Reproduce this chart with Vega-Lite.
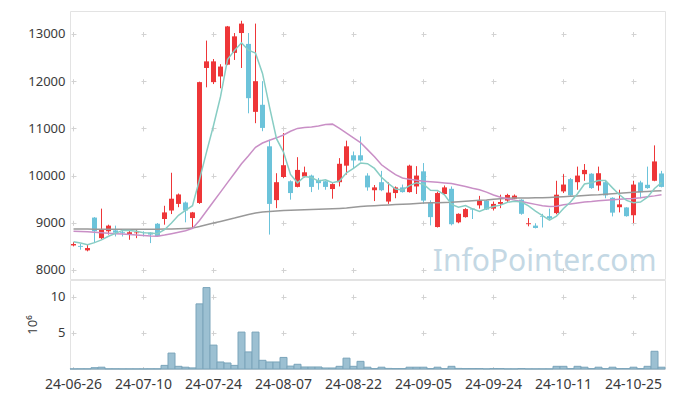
{
"$schema": "https://vega.github.io/schema/vega-lite/v6.json",
"padding": {"left": 5, "top": 10, "right": 9, "bottom": 5},
"background": "white",
"spacing": -3,
"config": {
  "view": {"stroke": "#e3e3e3"},
  "font": "Noto Sans",
  "axis": {"labelFont": "Noto Sans", "labelFontSize": 13, "labelColor": "#3a3a3a", "ticks": false, "domain": false, "gridColor": "#d2d2d2", "gridWidth": 1, "titleFont": "Noto Sans", "titleFontWeight": "normal", "titleFontSize": 13, "titleColor": "#3a3a3a"}
},
"datasets": {"k": [
{"d":"24-06-26","O":8520,"H":8590,"L":8500,"C":8550,"V":0.02,"m5":8600,"m20":8820,"m60":8870},
{"d":"24-06-27","O":8510,"H":8550,"L":8430,"C":8490,"V":0.03,"m5":8570,"m20":8815,"m60":8868},
{"d":"24-06-28","O":8415,"H":8540,"L":8395,"C":8465,"V":0.03,"m5":8535,"m20":8810,"m60":8866},
{"d":"24-07-01","O":9110,"H":9120,"L":8570,"C":8820,"V":0.18,"m5":8580,"m20":8800,"m60":8865},
{"d":"24-07-02","O":8675,"H":9300,"L":8650,"C":8860,"V":0.25,"m5":8637,"m20":8790,"m60":8865},
{"d":"24-07-03","O":8820,"H":8960,"L":8750,"C":8940,"V":0.03,"m5":8715,"m20":8780,"m60":8865},
{"d":"24-07-04","O":8840,"H":8940,"L":8710,"C":8790,"V":0.03,"m5":8775,"m20":8770,"m60":8864},
{"d":"24-07-05","O":8800,"H":8860,"L":8710,"C":8780,"V":0.02,"m5":8838,"m20":8760,"m60":8864},
{"d":"24-07-08","O":8750,"H":8860,"L":8640,"C":8800,"V":0.02,"m5":8834,"m20":8750,"m60":8863},
{"d":"24-07-09","O":8780,"H":8860,"L":8675,"C":8795,"V":0.02,"m5":8821,"m20":8740,"m60":8862},
{"d":"24-07-10","O":8795,"H":8820,"L":8710,"C":8785,"V":0.02,"m5":8790,"m20":8730,"m60":8862},
{"d":"24-07-11","O":8790,"H":8800,"L":8570,"C":8750,"V":0.03,"m5":8782,"m20":8720,"m60":8862},
{"d":"24-07-12","O":8980,"H":8995,"L":8710,"C":8715,"V":0.03,"m5":8769,"m20":8715,"m60":8863},
{"d":"24-07-15","O":9080,"H":9360,"L":8960,"C":9220,"V":0.5,"m5":8853,"m20":8740,"m60":8866},
{"d":"24-07-16","O":9260,"H":10060,"L":9185,"C":9510,"V":2.2,"m5":8996,"m20":8770,"m60":8870},
{"d":"24-07-17","O":9400,"H":9620,"L":9330,"C":9600,"V":0.37,"m5":9159,"m20":8800,"m60":8875},
{"d":"24-07-18","O":9430,"H":9450,"L":9010,"C":9260,"V":0.25,"m5":9261,"m20":8830,"m60":8880},
{"d":"24-07-19","O":9100,"H":9230,"L":8890,"C":9220,"V":0.15,"m5":9362,"m20":8880,"m60":8887},
{"d":"24-07-22","O":9420,"H":11990,"L":9400,"C":11980,"V":9.0,"m5":9914,"m20":9050,"m60":8920},
{"d":"24-07-23","O":12280,"H":12860,"L":11870,"C":12420,"V":11.25,"m5":10496,"m20":9250,"m60":8960},
{"d":"24-07-24","O":11980,"H":12470,"L":11940,"C":12420,"V":3.3,"m5":11060,"m20":9450,"m60":8995},
{"d":"24-07-25","O":12100,"H":12360,"L":11850,"C":12310,"V":0.97,"m5":11670,"m20":9650,"m60":9029},
{"d":"24-07-26","O":12350,"H":13170,"L":12340,"C":13160,"V":0.83,"m5":12458,"m20":9850,"m60":9064},
{"d":"24-07-29","O":12600,"H":13020,"L":12450,"C":12950,"V":0.5,"m5":12652,"m20":10050,"m60":9100},
{"d":"24-07-30","O":13020,"H":13280,"L":12280,"C":13220,"V":5.1,"m5":12812,"m20":10250,"m60":9140},
{"d":"24-07-31","O":12790,"H":13020,"L":11320,"C":11640,"V":2.36,"m5":12656,"m20":10420,"m60":9175},
{"d":"24-08-01","O":11350,"H":13220,"L":11110,"C":12000,"V":5.1,"m5":12594,"m20":10600,"m60":9205},
{"d":"24-08-02","O":11500,"H":12000,"L":10940,"C":11010,"V":1.2,"m5":12164,"m20":10690,"m60":9230},
{"d":"24-08-05","O":10620,"H":10760,"L":8750,"C":9400,"V":0.97,"m5":11454,"m20":10750,"m60":9240},
{"d":"24-08-06","O":9480,"H":10050,"L":9310,"C":9860,"V":0.97,"m5":10782,"m20":10800,"m60":9250},
{"d":"24-08-07","O":9970,"H":10900,"L":9950,"C":10220,"V":1.6,"m5":10498,"m20":10860,"m60":9258},
{"d":"24-08-08","O":9880,"H":9900,"L":9490,"C":9630,"V":0.4,"m5":10024,"m20":10940,"m60":9264},
{"d":"24-08-09","O":9760,"H":10390,"L":9750,"C":10120,"V":0.65,"m5":9846,"m20":11000,"m60":9270},
{"d":"24-08-12","O":9980,"H":10190,"L":9960,"C":10070,"V":0.28,"m5":9980,"m20":11020,"m60":9275},
{"d":"24-08-13","O":10000,"H":10020,"L":9650,"C":9760,"V":0.28,"m5":9960,"m20":11030,"m60":9280},
{"d":"24-08-14","O":9910,"H":9950,"L":9700,"C":9840,"V":0.28,"m5":9884,"m20":11050,"m60":9285},
{"d":"24-08-16","O":9880,"H":9890,"L":9700,"C":9760,"V":0.14,"m5":9910,"m20":11080,"m60":9292},
{"d":"24-08-19","O":9715,"H":9840,"L":9510,"C":9820,"V":0.14,"m5":9850,"m20":11090,"m60":9298},
{"d":"24-08-20","O":9860,"H":10370,"L":9770,"C":10250,"V":0.37,"m5":9886,"m20":11000,"m60":9305},
{"d":"24-08-21","O":10210,"H":10740,"L":10020,"C":10620,"V":1.5,"m5":10058,"m20":10900,"m60":9312},
{"d":"24-08-22","O":10430,"H":10510,"L":10160,"C":10320,"V":0.37,"m5":10154,"m20":10800,"m60":9330},
{"d":"24-08-23","O":10430,"H":10830,"L":10300,"C":10320,"V":1.06,"m5":10266,"m20":10700,"m60":9347},
{"d":"24-08-26","O":10000,"H":10050,"L":9680,"C":9750,"V":0.25,"m5":10252,"m20":10550,"m60":9355},
{"d":"24-08-27","O":9690,"H":9800,"L":9460,"C":9750,"V":0.06,"m5":10152,"m20":10400,"m60":9362},
{"d":"24-08-28","O":9860,"H":10100,"L":9670,"C":9690,"V":0.25,"m5":9966,"m20":10230,"m60":9370},
{"d":"24-08-29","O":9450,"H":9856,"L":9400,"C":9640,"V":0.08,"m5":9830,"m20":10120,"m60":9378},
{"d":"24-08-30","O":9630,"H":9770,"L":9520,"C":9750,"V":0.06,"m5":9716,"m20":10020,"m60":9385},
{"d":"24-09-02","O":9750,"H":9810,"L":9640,"C":9650,"V":0.06,"m5":9696,"m20":9950,"m60":9392},
{"d":"24-09-03","O":9650,"H":10230,"L":9640,"C":10210,"V":0.25,"m5":9788,"m20":9920,"m60":9400},
{"d":"24-09-04","O":9770,"H":10200,"L":9610,"C":10000,"V":0.25,"m5":9850,"m20":9900,"m60":9408},
{"d":"24-09-05","O":10090,"H":10265,"L":9400,"C":9470,"V":0.25,"m5":9816,"m20":9880,"m60":9417},
{"d":"24-09-06","O":9420,"H":9475,"L":8945,"C":9120,"V":0.06,"m5":9690,"m20":9870,"m60":9422},
{"d":"24-09-09","O":8910,"H":9660,"L":8900,"C":9630,"V":0.25,"m5":9686,"m20":9860,"m60":9426},
{"d":"24-09-10","O":9610,"H":9790,"L":9590,"C":9750,"V":0.06,"m5":9594,"m20":9845,"m60":9430},
{"d":"24-09-11","O":9720,"H":9770,"L":8945,"C":8970,"V":0.37,"m5":9388,"m20":9830,"m60":9434},
{"d":"24-09-12","O":9010,"H":9200,"L":8990,"C":9190,"V":0.08,"m5":9332,"m20":9800,"m60":9445},
{"d":"24-09-13","O":9120,"H":9310,"L":9110,"C":9290,"V":0.06,"m5":9366,"m20":9770,"m60":9455},
{"d":"24-09-19","O":9300,"H":9310,"L":9080,"C":9280,"V":0.06,"m5":9296,"m20":9730,"m60":9465},
{"d":"24-09-20","O":9370,"H":9570,"L":9300,"C":9470,"V":0.06,"m5":9240,"m20":9700,"m60":9475},
{"d":"24-09-23","O":9470,"H":9480,"L":9270,"C":9280,"V":0.02,"m5":9302,"m20":9650,"m60":9485},
{"d":"24-09-24","O":9300,"H":9450,"L":9260,"C":9400,"V":0.06,"m5":9344,"m20":9590,"m60":9500},
{"d":"24-09-25","O":9400,"H":9595,"L":9310,"C":9440,"V":0.06,"m5":9374,"m20":9540,"m60":9510},
{"d":"24-09-26","O":9470,"H":9615,"L":9420,"C":9590,"V":0.02,"m5":9436,"m20":9510,"m60":9520},
{"d":"24-09-27","O":9510,"H":9600,"L":9500,"C":9575,"V":0.02,"m5":9457,"m20":9480,"m60":9523},
{"d":"24-09-30","O":9490,"H":9500,"L":9170,"C":9190,"V":0.06,"m5":9439,"m20":9450,"m60":9525},
{"d":"24-10-02","O":8970,"H":9100,"L":8925,"C":8990,"V":0.02,"m5":9357,"m20":9420,"m60":9527},
{"d":"24-10-04","O":8940,"H":8990,"L":8880,"C":8890,"V":0.02,"m5":9247,"m20":9390,"m60":9530},
{"d":"24-10-07","O":9140,"H":9190,"L":8900,"C":9125,"V":0.02,"m5":9154,"m20":9360,"m60":9533},
{"d":"24-10-08","O":9140,"H":9300,"L":9080,"C":9090,"V":0.02,"m5":9057,"m20":9345,"m60":9538},
{"d":"24-10-10","O":9205,"H":9890,"L":9180,"C":9595,"V":0.37,"m5":9138,"m20":9350,"m60":9545},
{"d":"24-10-11","O":9665,"H":10030,"L":9630,"C":9810,"V":0.37,"m5":9302,"m20":9380,"m60":9552},
{"d":"24-10-14","O":9925,"H":9950,"L":9570,"C":9580,"V":0.06,"m5":9440,"m20":9400,"m60":9560},
{"d":"24-10-15","O":9860,"H":10190,"L":9700,"C":10000,"V":0.37,"m5":9615,"m20":9420,"m60":9570},
{"d":"24-10-16","O":10030,"H":10245,"L":9890,"C":10120,"V":0.25,"m5":9821,"m20":9440,"m60":9580},
{"d":"24-10-17","O":10040,"H":10050,"L":9720,"C":9735,"V":0.06,"m5":9849,"m20":9450,"m60":9590},
{"d":"24-10-18","O":9790,"H":10190,"L":9680,"C":10050,"V":0.25,"m5":9897,"m20":9465,"m60":9595},
{"d":"24-10-21","O":9860,"H":9890,"L":9520,"C":9580,"V":0.06,"m5":9897,"m20":9480,"m60":9605},
{"d":"24-10-22","O":9530,"H":9540,"L":9135,"C":9215,"V":0.25,"m5":9740,"m20":9490,"m60":9615},
{"d":"24-10-23","O":9330,"H":9700,"L":9220,"C":9390,"V":0.06,"m5":9594,"m20":9500,"m60":9625},
{"d":"24-10-24","O":9325,"H":9330,"L":9130,"C":9140,"V":0.06,"m5":9475,"m20":9510,"m60":9635},
{"d":"24-10-25","O":9160,"H":9890,"L":8995,"C":9810,"V":0.25,"m5":9427,"m20":9515,"m60":9645},
{"d":"24-10-28","O":9855,"H":9890,"L":9520,"C":9645,"V":0.06,"m5":9440,"m20":9530,"m60":9655},
{"d":"24-10-29","O":9805,"H":10190,"L":9720,"C":9735,"V":0.37,"m5":9544,"m20":9550,"m60":9665},
{"d":"24-10-30","O":9890,"H":10640,"L":9880,"C":10300,"V":2.45,"m5":9726,"m20":9570,"m60":9672},
{"d":"24-10-31","O":10045,"H":10100,"L":9750,"C":9760,"V":0.25,"m5":9850,"m20":9595,"m60":9680}
]},
"vconcat": [
{
  "width": 595,
  "height": 268,
  "layer": [
    {
      "data": {"name": "k"},
      "mark": {"type": "rule", "strokeWidth": 1},
      "encoding": {
        "x": {"field": "d", "type": "ordinal", "sort": null, "title": null, "scale": {"type": "band", "paddingInner": 0, "paddingOuter": 0},
              "axis": {"orient": "bottom", "labels": false, "title": null, "values": ["24-06-26","24-07-10","24-07-24","24-08-07","24-08-22","24-09-05","24-09-24","24-10-11","24-10-25"], "grid": true, "gridDash": [5, 42.2], "gridDashOffset": 26.7, "bandPosition": 0.5, "minExtent": 0, "maxExtent": 0, "labelPadding": 0, "offset": 0}},
        "y": {"field": "L", "type": "quantitative", "title": null, "scale": {"domain": [7809, 13487], "nice": false, "zero": false},
              "axis": {"values": [8000, 9000, 10000, 11000, 12000, 13000], "format": "d", "title": null, "grid": true, "gridDash": [5, 65], "gridDashOffset": 69, "labelPadding": 5, "minExtent": 64, "maxExtent": 64}},
        "y2": {"field": "H"},
        "color": {"condition": {"test": "datum.C >= datum.O", "value": "#ee3638"}, "value": "#6cc3da"}
      }
    },
    {
      "data": {"name": "k"},
      "mark": {"type": "bar", "size": 5},
      "encoding": {
        "x": {"field": "d", "type": "ordinal", "sort": null, "title": null},
        "y": {"field": "O", "type": "quantitative", "title": null, "scale": {"domain": [7809, 13487], "nice": false, "zero": false}},
        "y2": {"field": "C"},
        "color": {"condition": {"test": "datum.C >= datum.O", "value": "#ee3638"}, "value": "#6cc3da"}
      }
    },
    {
      "data": {"name": "k"},
      "mark": {"type": "line", "strokeWidth": 1.5, "color": "#999999"},
      "encoding": {
        "x": {"field": "d", "type": "ordinal", "sort": null, "title": null},
        "y": {"field": "m60", "type": "quantitative", "title": null, "scale": {"domain": [7809, 13487], "nice": false, "zero": false}}
      }
    },
    {
      "data": {"name": "k"},
      "mark": {"type": "line", "strokeWidth": 1.5, "color": "#c98fc6"},
      "encoding": {
        "x": {"field": "d", "type": "ordinal", "sort": null, "title": null},
        "y": {"field": "m20", "type": "quantitative", "title": null, "scale": {"domain": [7809, 13487], "nice": false, "zero": false}}
      }
    },
    {
      "data": {"name": "k"},
      "mark": {"type": "line", "strokeWidth": 1.5, "color": "#88cdc4"},
      "encoding": {
        "x": {"field": "d", "type": "ordinal", "sort": null, "title": null},
        "y": {"field": "m5", "type": "quantitative", "title": null, "scale": {"domain": [7809, 13487], "nice": false, "zero": false}}
      }
    },
    {
      "data": {"values": [{"t": "InfoPointer.com"}]},
      "mark": {"type": "text", "align": "right", "baseline": "alphabetic", "fontSize": 30, "font": "Noto Sans", "color": "#c4d8e4", "dx": 2},
      "encoding": {
        "x": {"datum": "24-10-30", "type": "ordinal"},
        "y": {"datum": 7980, "type": "quantitative", "scale": {"domain": [7809, 13487], "nice": false, "zero": false}},
        "text": {"field": "t"}
      }
    }
  ]
},
{
  "width": 595,
  "height": 89,
  "data": {"name": "k"},
  "mark": {"type": "bar", "color": "#9cc0d2", "stroke": "#7aa4ba", "strokeWidth": 1},
  "encoding": {
    "x": {"field": "d", "type": "ordinal", "sort": null, "title": null, "scale": {"type": "band", "paddingInner": 0, "paddingOuter": 0},
          "axis": {"orient": "bottom", "labelAngle": 0, "labelPadding": 8, "labelFontSize": 14, "title": null, "domain": true, "domainColor": "#dddddd", "values": ["24-06-26","24-07-10","24-07-24","24-08-07","24-08-22","24-09-05","24-09-24","24-10-11","24-10-25"], "grid": true, "gridDash": [5, 31.15], "gridDashOffset": 21.95, "bandPosition": 0.5}},
    "y": {"field": "V", "type": "quantitative", "title": "10⁶", "scale": {"domain": [0, 12.3], "nice": false, "zero": true},
          "axis": {"values": [5, 10], "title": "10⁶", "grid": true, "gridDash": [5, 65], "gridDashOffset": 69, "labelPadding": 5, "titlePadding": 11, "minExtent": 20, "maxExtent": 20}}
  }
}
]
}
